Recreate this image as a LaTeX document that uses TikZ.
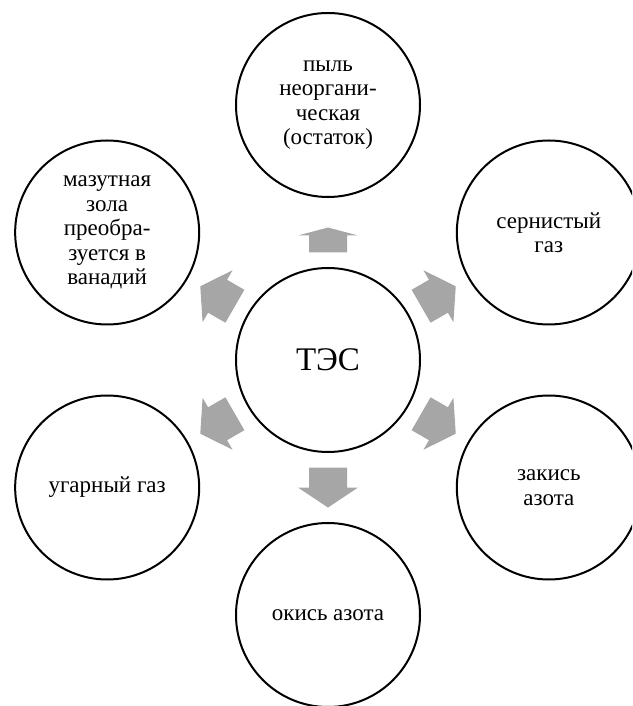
\documentclass[tikz,border=0pt]{standalone}
\usepackage{fontspec}
\setmainfont{Liberation Serif}
\usepackage{tikz}
\usetikzlibrary{calc}
\definecolor{arrowgray}{RGB}{166,166,166}
\tikzset{
    block arrow/.pic={
            \tikzset{/blockarrow/.cd, #1}
            \fill[arrowgray] (-20,-19) -- (\arrowneck,-19) -- (\arrowneck,-30) -- (\arrowtip,0)
            -- (\arrowneck,30) -- (\arrowneck,19) -- (-20,19) -- cycle;
        },
    /blockarrow/.search also={/tikz},
    /blockarrow/.cd,
    neck/.store in=\arrowneck,
    tip/.store in=\arrowtip,
    neck=0,
    tip=20,
}
\tikzset{
    source/.style={draw, circle, line width=2pt, minimum size=184pt, inner sep=0pt,
        align=center, font=\fontsize{23}{24.5}\selectfont},
}

\begin{document}
\begin{tikzpicture}[x=1pt,y=1pt]
            \clip (-328,-346) rectangle (304,360);
            \node[source, font=\fontsize{33}{36}\selectfont] (tes) at (0,0) {ТЭС};
            \node[source] (dust) at (90:255) {пыль\\неоргани-\\ческая\\(остаток)};
            \node[source] (sulfur) at (30:255) {сернистый\\газ};
            \node[source] (nitrous) at (-30:255) {закись\\азота};
            \node[source] (nitric) at (-90:255) {окись азота};
            \node[source] (carbon) at (-150:255) {угарный газ};
            \node[source] (ash) at (150:255) {мазутная\\зола\\преобра-\\зуется в\\ванадий};
            % arrows from the station
            \pic[rotate=90] at ($(tes)!0.5!(dust)$) {block arrow={neck=-3,tip=5}};
            \pic[rotate=30] at ($(tes)!0.5!(sulfur)$) {block arrow={}};
            \pic[rotate=-30] at ($(tes)!0.5!(nitrous)$) {block arrow={}};
            \pic[rotate=-90] at ($(tes)!0.5!(nitric)$) {block arrow={}};
            \pic[rotate=-150] at ($(tes)!0.5!(carbon)$) {block arrow={}};
            \pic[rotate=150] at ($(tes)!0.5!(ash)$) {block arrow={}};
        \end{tikzpicture}
\end{document}
